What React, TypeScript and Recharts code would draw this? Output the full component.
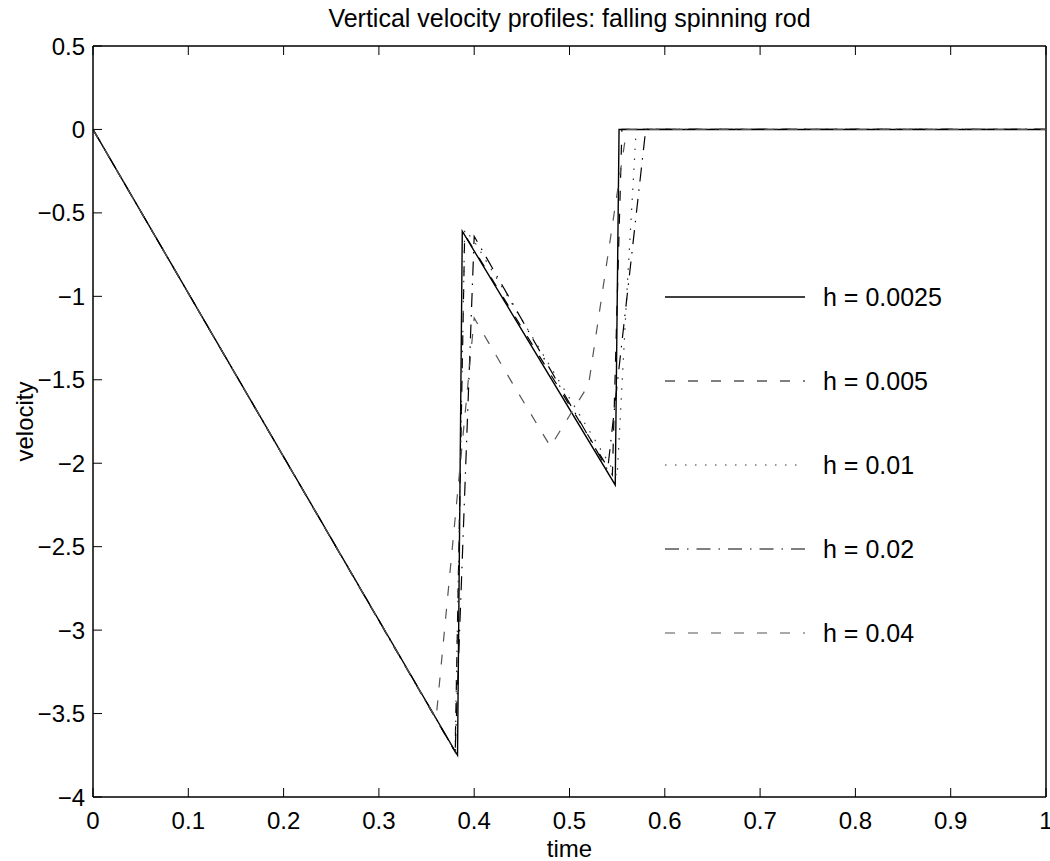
import { LineChart, Line, XAxis, YAxis, ReferenceLine } from "recharts"

// step sizes shown in the legend
const seriesNames = ["h = 0.0025", "h = 0.005", "h = 0.01", "h = 0.02", "h = 0.04"]

// time / velocity corner points, one pair per series
const t0025 = [0, 0.3825, 0.3875, 0.548, 0.552, 1]
const v0025 = [0, -3.75, -0.61, -2.13, 0, 0]

const t005 = [0, 0.38, 0.39, 0.545, 0.555, 1]
const v005 = [0, -3.73, -0.63, -2.07, 0, 0]

const t01 = [0, 0.38, 0.39, 0.4, 0.55, 0.56, 0.57, 1]
const v01 = [0, -3.73, -0.6, -0.67, -2.08, -1.0, 0, 0]

const t02 = [0, 0.36, 0.38, 0.4, 0.54, 0.56, 0.58, 1]
const v02 = [0, -3.53, -3.73, -0.64, -2.04, -1.02, 0, 0]

const t04 = [0, 0.36, 0.4, 0.44, 0.48, 0.52, 0.56, 1]
const v04 = [0, -3.53, -1.13, -1.52, -1.9, -1.53, 0, 0]

const xTicks = [0, 0.1, 0.2, 0.3, 0.4, 0.5, 0.6, 0.7, 0.8, 0.9, 1]
const yTicks = [-4, -3.5, -3, -2.5, -2, -1.5, -1, -0.5, 0, 0.5]

const zip = (t: number[], v: number[]) => t.map((x, i) => ({ t: x, v: v[i] }))

const series = [
  { name: seriesNames[0], data: zip(t0025, v0025), color: "#000", dash: undefined, width: 1.4 },
  { name: seriesNames[1], data: zip(t005, v005), color: "#000", dash: "10 13", width: 1.2 },
  { name: seriesNames[2], data: zip(t01, v01), color: "#333", dash: "1.5 8.5", width: 1.2 },
  { name: seriesNames[3], data: zip(t02, v02), color: "#000", dash: "14 8 1.5 8", width: 1.2 },
  { name: seriesNames[4], data: zip(t04, v04), color: "#555", dash: "10 13", width: 1.2 },
]

const font = "'Liberation Sans', Arial, Helvetica, sans-serif"
const tickStyle = { fill: "#000", fontSize: 24, fontFamily: font }
const axisLine = { stroke: "#000", strokeWidth: 1.5 }
const tickLineStyle = { stroke: "#000", strokeWidth: 1 }
const noLabel = () => <g />
const minus = (v: number) => String(v).replace("-", "\u2212")

function LegendBox() {
  return (
    <svg width={320} height={400}>
      {series.map((s, i) => (
        <g key={s.name}>
          <line
            x1={5}
            x2={145}
            y1={17 + i * 84}
            y2={17 + i * 84}
            stroke={s.color}
            strokeWidth={s.width}
            strokeDasharray={s.dash}
          />
          <text x={163} y={17 + i * 84} dy="0.36em" fontSize={25} fontFamily={font} fill="#000">
            {s.name}
          </text>
        </g>
      ))}
    </svg>
  )
}

export default function App() {
  return (
    <div style={{ position: "absolute", left: 0, top: 0, width: 1050, height: 861, background: "#fff" }}>
      <LineChart width={1050} height={861} margin={{ top: 45, right: 4, left: 0, bottom: 0 }}>
        <XAxis
          dataKey="t"
          type="number"
          domain={[0, 1]}
          ticks={xTicks}
          interval={0}
          allowDataOverflow
          height={64}
          tickSize={-9}
          tickMargin={24}
          tick={tickStyle}
          axisLine={axisLine}
          tickLine={tickLineStyle}
          label={{ value: "time", position: "insideBottom", offset: 4, style: { fontSize: 24, fontFamily: font, fill: "#000" } }}
        />
        <XAxis
          xAxisId="top"
          dataKey="t"
          orientation="top"
          type="number"
          domain={[0, 1]}
          ticks={xTicks}
          interval={0}
          allowDataOverflow
          height={1}
          tickSize={-9}
          tick={noLabel}
          axisLine={axisLine}
          tickLine={tickLineStyle}
          label={{ value: "Vertical velocity profiles: falling spinning rod", position: "top", offset: 18, style: { fontSize: 25, fontFamily: font, fill: "#000" } }}
        />
        <YAxis
          type="number"
          domain={[-4, 0.5]}
          ticks={yTicks}
          interval={0}
          allowDataOverflow
          width={93}
          tickSize={-9}
          tickMargin={17}
          tick={tickStyle}
          tickFormatter={minus}
          axisLine={axisLine}
          tickLine={tickLineStyle}
          label={{ value: "velocity", angle: -90, position: "insideLeft", offset: 24, style: { fontSize: 24, fontFamily: font, fill: "#000", textAnchor: "middle" } }}
        />
        <ReferenceLine x={1} stroke="#000" strokeWidth={1.5} />
        {series.map((s) => (
          <Line
            key={s.name}
            data={s.data}
            dataKey="v"
            name={s.name}
            type="linear"
            stroke={s.color}
            strokeWidth={s.width}
            strokeDasharray={s.dash}
            dot={false}
            activeDot={false}
            isAnimationActive={false}
          />
        ))}
      </LineChart>
      <div style={{ position: "absolute", left: 660, top: 280 }}>
        <LegendBox />
      </div>
    </div>
  )
}
